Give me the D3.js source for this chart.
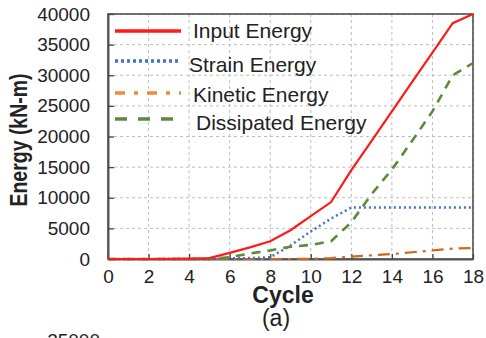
<!DOCTYPE html>
<html>
<head>
<meta charset="utf-8">
<script src="https://cdn.jsdelivr.net/npm/d3@7"></script>
<style>
  body { margin: 0; background: #fff; }
  text { font-family: "Liberation Sans", Arial, sans-serif; fill: #222; }
</style>
</head>
<body>
<div id="chart"></div>
<script>
var cycles = [0, 1, 2, 3, 4, 5, 6, 7, 8, 9, 10, 11, 12, 13, 14, 15, 16, 17, 18];
var inputEnergy = [0, 0, 0, 20, 50, 150, 1000, 1900, 2900, 4700, 7000, 9300, 14500, 19300, 24100, 28900, 33700, 38500, 40000];
var strainEnergy = [0, 0, 0, 0, 0, 0, 100, 150, 300, 2200, 4500, 6600, 8400, 8400, 8400, 8400, 8400, 8400, 8400];
var kineticEnergy = [0, 0, 0, 0, 0, 0, 0, 0, 0, 0, 20, 150, 400, 600, 800, 1100, 1400, 1700, 1800];
var dissipatedEnergy = [0, 0, 0, 0, 0, 0, 300, 900, 1400, 2000, 2300, 2900, 6000, 10600, 14600, 19300, 24100, 30000, 32000];
var seriesNames = ["Input Energy", "Strain Energy", "Kinetic Energy", "Dissipated Energy"];
var xTicks = [0, 2, 4, 6, 8, 10, 12, 14, 16, 18];
var yTicks = [0, 5000, 10000, 15000, 20000, 25000, 30000, 35000, 40000];

var series = [
  { name: seriesNames[0], values: inputEnergy, color: "#ff1a1a", legendColor: "#ff1a1a", dash: null, legendDash: null, width: 2.2 },
  { name: seriesNames[1], values: strainEnergy, color: "#4472c4", legendColor: "#4472c4", dash: "2,3", legendDash: "3,3", width: 2.5 },
  { name: seriesNames[2], values: kineticEnergy, color: "#d0661f", legendColor: "#ef8a3e", dash: "12,6,3,6", legendDash: "10,9,4,9", width: 2.2 },
  { name: seriesNames[3], values: dissipatedEnergy, color: "#5a8a3a", legendColor: "#5a8a3a", dash: "9,7", legendDash: "12,11", width: 2.6 }
];

// legend rows (line y, text x, text center y)
var legendRows = [
  { ly: 31, tx: 193, ty: 30 },
  { ly: 61, tx: 189, ty: 64 },
  { ly: 93, tx: 193, ty: 94 },
  { ly: 119, tx: 196, ty: 122 }
];

var W = 486, H = 338;
var margin = { top: 14, right: 13, bottom: 79, left: 108 };
var width = W - margin.left - margin.right,
    height = H - margin.top - margin.bottom;

var svg = d3.select("#chart").append("svg")
    .attr("width", W).attr("height", H);

var g = svg.append("g")
    .attr("transform", "translate(" + margin.left + "," + margin.top + ")");

var x = d3.scaleLinear().domain([0, 18]).range([0, width]);
var y = d3.scaleLinear().domain([0, 40000]).range([height, 0]);

// grid
g.selectAll(".hgrid").data(yTicks.slice(1))
  .enter().append("line")
    .attr("x1", 0).attr("x2", width)
    .attr("y1", function(d) { return y(d); }).attr("y2", function(d) { return y(d); })
    .attr("stroke", "#bdbdbd").attr("stroke-width", 1).attr("stroke-dasharray", "3,3");
g.selectAll(".vgrid").data(xTicks.slice(1))
  .enter().append("line")
    .attr("x1", function(d) { return x(d); }).attr("x2", function(d) { return x(d); })
    .attr("y1", 0).attr("y2", height)
    .attr("stroke", "#bdbdbd").attr("stroke-width", 1).attr("stroke-dasharray", "3,3");

// frame
g.append("rect")
  .attr("x", 0).attr("y", 0).attr("width", width).attr("height", height)
  .attr("fill", "none").attr("stroke", "#444").attr("stroke-width", 1.5);

// axes
var xAxis = g.append("g")
  .attr("transform", "translate(0," + height + ")")
  .call(d3.axisBottom(x).tickValues(xTicks).tickSizeInner(-5).tickSizeOuter(0).tickPadding(11));
var yAxis = g.append("g")
  .call(d3.axisLeft(y).tickValues(yTicks).tickFormat(d3.format("d"))
    .tickSizeInner(-6).tickSizeOuter(0).tickPadding(18));

[xAxis, yAxis].forEach(function(a) {
  a.select(".domain").attr("stroke", "#555").attr("stroke-width", 2);
  a.selectAll(".tick line").attr("stroke", "#444").attr("stroke-width", 1.3);
  a.selectAll(".tick text").style("font-family", "Liberation Sans, Arial, sans-serif")
    .style("font-size", "19px").attr("fill", "#222");
});

// lines
var line = d3.line()
  .x(function(d, i) { return x(cycles[i]); })
  .y(function(d) { return y(d); });

var order = [2, 1, 3, 0];
order.forEach(function(k) {
  var s = series[k];
  g.append("path")
    .datum(s.values)
    .attr("d", line)
    .attr("fill", "none")
    .attr("stroke", s.color)
    .attr("stroke-width", s.width)
    .attr("stroke-dasharray", s.dash);
});

// legend
series.forEach(function(s, i) {
  var r = legendRows[i];
  svg.append("line")
    .attr("x1", 115).attr("x2", 181)
    .attr("y1", r.ly).attr("y2", r.ly)
    .attr("stroke", s.legendColor)
    .attr("stroke-width", 3.5)
    .attr("stroke-dasharray", s.legendDash);
  svg.append("text")
    .attr("x", r.tx).attr("y", r.ty)
    .attr("dy", "0.36em")
    .style("font-size", "21px")
    .text(s.name);
});

// axis titles
svg.append("text")
  .attr("transform", "translate(27,140) rotate(-90) scale(1,1.2)")
  .attr("text-anchor", "middle")
  .style("font-size", "19.5px").style("font-weight", "bold")
  .text("Energy (kN-m)");

svg.append("text")
  .attr("x", 283).attr("y", 303)
  .attr("text-anchor", "middle")
  .style("font-size", "23px").style("font-weight", "bold")
  .text("Cycle");

svg.append("text")
  .attr("x", 276).attr("y", 326)
  .attr("text-anchor", "middle")
  .style("font-size", "23px")
  .text("(a)");

// top of the next panel's axis label, cut off by the picture's edge
svg.append("text")
  .attr("x", 100).attr("y", 347)
  .attr("text-anchor", "end")
  .style("font-size", "19px")
  .text("25000");
</script>
</body>
</html>
